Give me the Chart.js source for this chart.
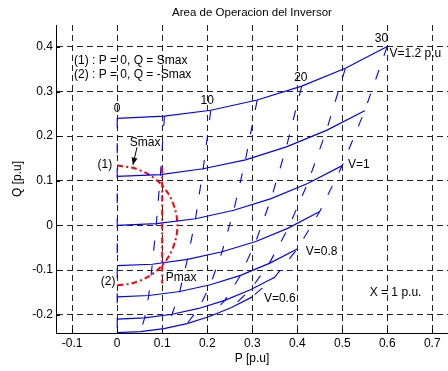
<!DOCTYPE html>
<html>
<head>
<meta charset="utf-8">
<script src="https://cdn.jsdelivr.net/npm/chart.js@4.4.1/dist/chart.umd.min.js"></script>
<style>
  body { margin: 0; background: #fff; }
  canvas { display: block; }
</style>
</head>
<body>
<canvas id="myChart" width="448" height="371"></canvas>
<script>
// curvas de tension constante, delta = 0,5,...,30 grados (P, Q en p.u.)
const deltas = [0, 5, 10, 15, 20, 25, 30];
const voltages = ['1.2', '1.1', '1', '0.9', '0.8', '0.7', '0.6'];

const pV12 = [0, 0.105, 0.208, 0.311, 0.410, 0.507, 0.600];
const qV12 = [0.240, 0.245, 0.258, 0.281, 0.312, 0.352, 0.401];
const pV11 = [0, 0.096, 0.191, 0.285, 0.376, 0.465, 0.550];
const qV11 = [0.110, 0.114, 0.127, 0.147, 0.176, 0.213, 0.257];
const pV10 = [0, 0.087, 0.174, 0.259, 0.342, 0.423, 0.500];
const qV10 = [0, 0.004, 0.015, 0.034, 0.060, 0.094, 0.134];
const pV09 = [0, 0.078, 0.156, 0.233, 0.308, 0.380, 0.450];
const qV09 = [-0.090, -0.087, -0.076, -0.059, -0.036, -0.006, 0.031];
const pV08 = [0, 0.070, 0.139, 0.207, 0.274, 0.338, 0.400];
const qV08 = [-0.160, -0.157, -0.148, -0.133, -0.112, -0.085, -0.053];
const pV07 = [0, 0.061, 0.122, 0.181, 0.239, 0.296, 0.350];
const qV07 = [-0.210, -0.207, -0.199, -0.186, -0.168, -0.144, -0.116];
const pV06 = [0, 0.052, 0.104, 0.155, 0.205, 0.254, 0.300];
const qV06 = [-0.240, -0.238, -0.231, -0.220, -0.204, -0.184, -0.160];

// limite Smax (semicirculo) y Pmax
const pSmax = [0, 0.035, 0.067, 0.095, 0.116, 0.129, 0.134, 0.129, 0.116, 0.095, 0.067, 0.035, 0];
const qSmax = [0.134, 0.129, 0.116, 0.095, 0.067, 0.035, 0, -0.035, -0.067, -0.095, -0.116, -0.129, -0.134];
const pPmax = [0.1, 0.1];
const qPmax = [0.13, -0.13];

const xTicks = [-0.1, 0, 0.1, 0.2, 0.3, 0.4, 0.5, 0.6, 0.7];
const yTicks = [-0.2, -0.1, 0, 0.1, 0.2, 0.3, 0.4];

const pCurves = [pV12, pV11, pV10, pV09, pV08, pV07, pV06];
const qCurves = [qV12, qV11, qV10, qV09, qV08, qV07, qV06];

const toPts = (xs, ys) => xs.map((x, i) => ({ x: x, y: ys[i] }));
const blue = '#0000ff';
const red = '#ff0000';

let datasets = [];
// lineas de angulo constante (discontinuas)
deltas.forEach((d, k) => {
    datasets.push({
        label: 'delta ' + d,
        data: pCurves.map((p, i) => ({ x: p[k], y: qCurves[i][k] })),
        borderColor: blue,
        borderWidth: 1.1,
        borderDash: [10, 15],
        showLine: true,
        pointRadius: 0
    });
});
// curvas V = cte
voltages.forEach((v, i) => {
    datasets.push({
        label: 'V=' + v,
        data: toPts(pCurves[i], qCurves[i]),
        borderColor: blue,
        borderWidth: 1.2,
        showLine: true,
        pointRadius: 0
    });
});
datasets.push({
    label: 'Smax',
    data: toPts(pSmax, qSmax),
    borderColor: red,
    borderWidth: 2,
    borderDash: [6, 3, 2, 3],
    showLine: true,
    tension: 0.3,
    pointRadius: 0
});
datasets.push({
    label: 'Pmax',
    data: toPts(pPmax, qPmax),
    borderColor: red,
    borderWidth: 2,
    borderDash: [6, 3, 2, 3],
    showLine: true,
    pointRadius: 0
});

// textos del grafico
const notes = [
    ['(1) : P = 0, Q = Smax', -0.096, 0.369, 'left'],
    ['(2) : P = 0, Q = -Smax', -0.096, 0.338, 'left'],
    ['0', 0, 0.262, 'center'],
    ['10', 0.2, 0.28, 'center'],
    ['20', 0.408, 0.332, 'center'],
    ['30', 0.587, 0.418, 'center'],
    ['V=1.2 p.u', 0.605, 0.384, 'left'],
    ['V=1', 0.513, 0.135, 'left'],
    ['V=0.8', 0.419, -0.059, 'left'],
    ['V=0.6', 0.326, -0.165, 'left'],
    ['X = 1 p.u.', 0.561, -0.150, 'left'],
    ['Smax', 0.028, 0.185, 'left'],
    ['(1)', -0.011, 0.135, 'right'],
    ['(2)', -0.004, -0.126, 'right'],
    ['Pmax', 0.108, -0.118, 'left']
];

const matlabPlugin = {
    id: 'matlabPlugin',
    afterDatasetsDraw(chart) {
        const c = chart.ctx;
        const xs = chart.scales.x, ys = chart.scales.y;
        const a = chart.chartArea;
        c.save();
        // ticks hacia dentro
        c.strokeStyle = '#000';
        c.lineWidth = 1;
        c.beginPath();
        xTicks.forEach(v => {
            const px = Math.round(xs.getPixelForValue(v)) + 0.5;
            c.moveTo(px, a.bottom); c.lineTo(px, a.bottom - 4);
        });
        yTicks.forEach(v => {
            const py = Math.round(ys.getPixelForValue(v)) + 0.5;
            c.moveTo(a.left, py); c.lineTo(a.left + 4, py);
        });
        c.stroke();

        c.fillStyle = '#000';
        c.font = '12px "Liberation Sans", Arial, sans-serif';
        c.textBaseline = 'middle';
        notes.forEach(n => {
            c.textAlign = n[3];
            c.fillText(n[0], xs.getPixelForValue(n[1]), ys.getPixelForValue(n[2]));
        });

        // flecha Smax
        const x1 = xs.getPixelForValue(0.044), y1 = ys.getPixelForValue(0.175);
        const x2 = xs.getPixelForValue(0.035), y2 = ys.getPixelForValue(0.136);
        const ang = Math.atan2(y2 - y1, x2 - x1);
        c.beginPath();
        c.moveTo(x1, y1); c.lineTo(x2, y2);
        c.stroke();
        c.beginPath();
        c.moveTo(x2, y2);
        c.lineTo(x2 - 7 * Math.cos(ang) + 3 * Math.sin(ang), y2 - 7 * Math.sin(ang) - 3 * Math.cos(ang));
        c.lineTo(x2 - 7 * Math.cos(ang) - 3 * Math.sin(ang), y2 - 7 * Math.sin(ang) + 3 * Math.cos(ang));
        c.closePath();
        c.fill();

        // titulo y ejes
        const cx = (a.left + a.right) / 2;
        c.textAlign = 'center';
        c.font = '11.5px "Liberation Sans", Arial, sans-serif';
        c.fillText('Area de Operacion del Inversor', cx, 13);
        c.font = '12px "Liberation Sans", Arial, sans-serif';
        c.fillText('P [p.u]', cx, 359);
        c.translate(18, (a.top + a.bottom) / 2);
        c.rotate(-Math.PI / 2);
        c.fillText('Q [p.u]', 0, 0);
        c.restore();
    }
};

const ctx = document.getElementById('myChart');
new Chart(ctx, {
    type: 'scatter',
    data: { datasets: datasets },
    options: {
        responsive: false,
        animation: false,
        devicePixelRatio: 1,
        layout: { padding: { top: 25, right: 0, left: 0, bottom: 0 } },
        plugins: { legend: { display: false }, tooltip: { enabled: false } },
        scales: {
            x: {
                type: 'linear',
                min: -0.136,
                max: 0.735,
                afterBuildTicks: s => { s.ticks = xTicks.map(v => ({ value: v })); },
                afterFit: s => { s.height = 38; },
                ticks: {
                    color: '#000',
                    padding: 3,
                    font: { size: 12, family: '"Liberation Sans", Arial, sans-serif' },
                    callback: v => String(Math.round(v * 10) / 10)
                },
                grid: { color: '#222', lineWidth: 1, drawTicks: false },
                border: { display: true, color: '#000', width: 1, dash: [6, 4] }
            },
            y: {
                type: 'linear',
                min: -0.241,
                max: 0.449,
                afterBuildTicks: s => { s.ticks = yTicks.map(v => ({ value: v })); },
                afterFit: s => { s.width = 56; },
                ticks: {
                    color: '#000',
                    padding: 3,
                    font: { size: 12, family: '"Liberation Sans", Arial, sans-serif' },
                    callback: v => String(Math.round(v * 10) / 10)
                },
                grid: { color: '#222', lineWidth: 1, drawTicks: false },
                border: { display: true, color: '#000', width: 1, dash: [6, 4] }
            }
        }
    },
    plugins: [matlabPlugin]
});
</script>
</body>
</html>
